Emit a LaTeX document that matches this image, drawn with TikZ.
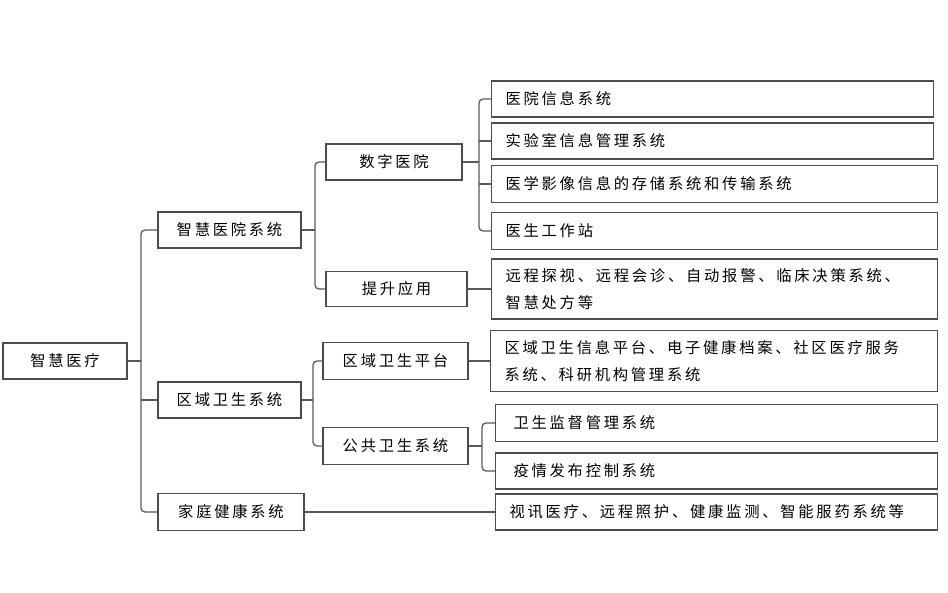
\documentclass[tikz,border=0pt]{standalone}
\usepackage{fontspec}
\newfontfamily\cjk[LetterSpace=18]{Noto Sans CJK SC}
\usetikzlibrary{positioning}

\begin{document}
\begin{tikzpicture}[x=1pt,y=-1pt,
  box/.style={draw=black!70,line width=1.1pt,inner sep=0pt,font=\cjk\fontsize{15.3}{27}\selectfont},
  leaf/.style={box,anchor=west,align=left,inner xsep=14pt},
  conn/.style={draw=black!65,line width=1.3pt,rounded corners=4pt}]
\useasboundingbox (0,0) rectangle (948,592);
\node[box,minimum width=124,minimum height=36] (root) at (65,361) {智慧医疗};
\node[box,minimum width=143,minimum height=36] (hosp) at (229.5,230) {智慧医院系统};
\node[box,minimum width=143,minimum height=36] (region) at (229.5,400) {区域卫生系统};
\node[box,minimum width=146,minimum height=37] (home) at (231,512) {家庭健康系统};
\node[box,minimum width=136,minimum height=36] (digital) at (394,162) {数字医院};
\node[box,minimum width=141,minimum height=35] (app) at (396.5,289) {提升应用};
\node[box,minimum width=145,minimum height=37] (platform) at (395.5,361) {区域卫生平台};
\node[box,minimum width=145,minimum height=37] (public) at (395.5,446) {公共卫生系统};
\node[leaf,text width=414,minimum height=36] (his) at (491,99) {医院信息系统};
\node[leaf,text width=414,minimum height=36] (lab) at (491,141) {实验室信息管理系统};
\node[leaf,text width=418,minimum height=37] (pacs) at (491,184) {医学影像信息的存储系统和传输系统};
\node[leaf,text width=418,minimum height=37] (doc) at (491,231) {医生工作站};
\node[leaf,text width=418,minimum height=60] (remote) at (491,289) {远程探视、远程会诊、自动报警、临床决策系统、\\智慧处方等};
\node[leaf,text width=419,minimum height=61] (rhis) at (490,361) {区域卫生信息平台、电子健康档案、社区医疗服务\\系统、科研机构管理系统};
\node[leaf,minimum height=37,inner xsep=18pt,text width=406] (super) at (495,423) {卫生监督管理系统};
\node[leaf,minimum height=36,inner xsep=18pt,text width=406] (epid) at (495,471) {疫情发布控制系统};
\node[leaf,minimum height=36,text width=414] (video) at (495,512) {视讯医疗、远程照护、健康监测、智能服药系统等};
\coordinate (b0) at (141,361);
\coordinate (b1) at (315,230);
\coordinate (b2) at (479,162);
\coordinate (b3) at (313,400);
\coordinate (b4) at (482,446);
\draw[conn] (root.east) -- (b0);
\draw[conn] (hosp.west) -- (hosp.west -| b0) |- (home.west);
\draw[conn] (region.west) -- (region.west -| b0);
\draw[conn] (hosp.east) -- (b1);
\draw[conn] (digital.west) -- (digital.west -| b1) |- (app.west);
\draw[conn] (digital.east) -- (b2);
\draw[conn] (his.west) -- (his.west -| b2) |- (doc.west);
\draw[conn] (lab.west) -- (lab.west -| b2);
\draw[conn] (pacs.west) -- (pacs.west -| b2);
\draw[conn] (app.east) -- (remote.west);
\draw[conn] (region.east) -- (b3);
\draw[conn] (platform.west) -- (platform.west -| b3) |- (public.west);
\draw[conn] (platform.east) -- (rhis.west);
\draw[conn] (public.east) -- (b4);
\draw[conn] (super.west) -- (super.west -| b4) |- (epid.west);
\draw[conn] (home.east) -- (video.west);
\end{tikzpicture}
\end{document}
